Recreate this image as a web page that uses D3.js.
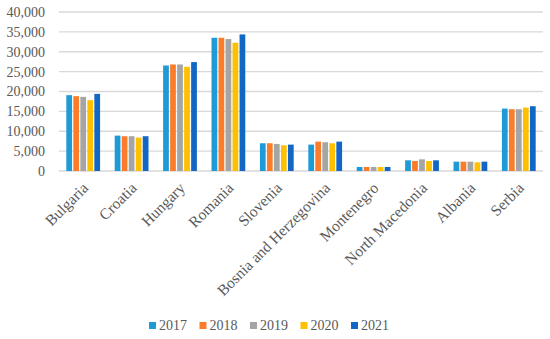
<html lang="en">
<head>
<meta charset="utf-8">
<title>Chart</title>
<script src="https://cdn.jsdelivr.net/npm/d3@7"></script>
<style>
  body { margin: 0; background: #fff; }
  text { font-family: "Liberation Serif", serif; fill: #595959; }
</style>
</head>
<body>
<script>
var countries = ["Bulgaria", "Croatia", "Hungary", "Romania", "Slovenia", "Bosnia and Herzegovina", "Montenegro", "North Macedonia", "Albania", "Serbia"];
var years = ["2017", "2018", "2019", "2020", "2021"];
var v2017 = [19080, 8900, 26540, 33520, 6980, 6640, 1010, 2690, 2350, 15700];
var v2018 = [18830, 8750, 26800, 33520, 6980, 7390, 1010, 2520, 2350, 15540];
var v2019 = [18650, 8750, 26800, 33190, 6800, 7230, 1010, 2940, 2350, 15540];
var v2020 = [17820, 8400, 26210, 32260, 6470, 6980, 1010, 2520, 2180, 15960];
var v2021 = [19400, 8750, 27400, 34360, 6640, 7390, 1010, 2690, 2350, 16300];
var yTicks = [0, 5000, 10000, 15000, 20000, 25000, 30000, 35000, 40000];
var colors = ["#1e9bd7", "#fb7d2b", "#a5a5a5", "#ffc000", "#1267c4"];

var series = [v2017, v2018, v2019, v2020, v2021];
var width = 550, height = 339;
var plotLeft = 59, plotRight = 543, plotTop = 12, plotBottom = 171;

var svg = d3.select("body").append("svg").attr("width", width).attr("height", height);

var x0 = d3.scaleBand().domain(countries).range([plotLeft, plotRight]).paddingInner(0.25).paddingOuter(0.125);
var x1 = d3.scaleBand().domain(years).range([0, x0.bandwidth()]).padding(0.18);
var y = d3.scaleLinear().domain([0, 40000]).range([plotBottom, plotTop]);

// gridlines
svg.append("g").selectAll("line").data(yTicks).enter().append("line")
    .attr("x1", plotLeft).attr("x2", plotRight)
    .attr("y1", function (d) { return y(d) }).attr("y2", function (d) { return y(d) })
    .attr("stroke", "#d9d9d9").attr("stroke-width", 1.3);

var yAxis = d3.axisLeft(y).tickValues(yTicks).tickSize(0).tickPadding(14).tickFormat(d3.format(","));
var ga = svg.append("g").attr("transform", "translate(" + plotLeft + ",0)").call(yAxis);
ga.select(".domain").remove();
ga.selectAll("text").attr("font-size", "14px").attr("font-family", "Liberation Serif").attr("fill", "#595959");

// bars
var groups = svg.append("g").selectAll("g").data(countries).enter().append("g")
    .attr("transform", function (d) { return "translate(" + x0(d) + ",0)" });
groups.selectAll("rect").data(function (d, i) {
    return years.map(function (yr, j) { return { year: yr, value: series[j][i], j: j } });
}).enter().append("rect")
    .attr("x", function (d) { return x1(d.year) })
    .attr("width", x1.bandwidth())
    .attr("y", function (d) { return y(d.value) })
    .attr("height", function (d) { return plotBottom - y(d.value) })
    .attr("fill", function (d) { return colors[d.j] });

// category labels
svg.append("g").selectAll("text").data(countries).enter().append("text")
    .text(function (d) { return d })
    .attr("text-anchor", "end")
    .attr("font-size", "15.5px")
    .attr("transform", function (d) { return "translate(" + (x0(d) + x0.bandwidth() / 2 + 6) + "," + 189 + ") rotate(-45)" });

// legend
var legend = svg.append("g").selectAll("g").data(years).enter().append("g")
    .attr("transform", function (d, i) { return "translate(" + (149 + i * 50.5) + ",322)" });
legend.append("rect").attr("width", 7).attr("height", 7).attr("fill", function (d, i) { return colors[i] });
legend.append("text").text(function (d) { return d }).attr("x", 10).attr("y", 8).attr("font-size", "14px");
</script>
</body>
</html>
